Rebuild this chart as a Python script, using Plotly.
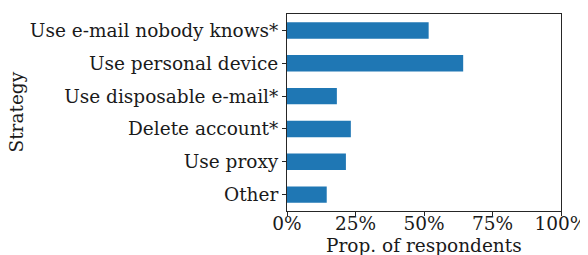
import plotly.graph_objects as go

strategies = ["Use e-mail nobody knows*", "Use personal device", "Use disposable e-mail*",
              "Delete account*", "Use proxy", "Other"]
proportions = [0.517, 0.643, 0.182, 0.233, 0.215, 0.145]
x_tickvals = [0, 0.25, 0.5, 0.75, 1.0]
x_ticktext = ["0%", "25%", "50%", "75%", "100%"]
x_title = "Prop. of respondents"
y_title = "Strategy"

font = "DejaVu Serif"
ink = "#1a1a1a"

fig = go.Figure(go.Bar(
    x=proportions, y=strategies, orientation="h",
    marker=dict(color="#1f77b4", line=dict(width=0)),
    width=0.5,
))

# page body has an 8px margin, so the figure is 8px smaller than the window
fig.update_layout(
    width=580, height=247,
    margin=dict(l=279, r=27, t=6, b=44, autoexpand=False),
    plot_bgcolor="white", paper_bgcolor="white",
    font=dict(family=font, size=18.5, color=ink),
    showlegend=False,
)
fig.update_xaxes(
    range=[0, 1], tickvals=x_tickvals, ticktext=x_ticktext,
    automargin=False, ticklabelstandoff=-8,
    showgrid=False, zeroline=False,
    showline=True, linecolor="#262626", linewidth=1, mirror=True,
    ticks="outside", ticklen=4, tickcolor="#262626",
)
fig.update_yaxes(
    categoryorder="array", categoryarray=strategies[::-1],
    range=[-0.5, 5.5], automargin=False,
    showgrid=False, zeroline=False,
    showline=True, linecolor="#262626", linewidth=1, mirror=True,
    ticks="outside", ticklen=4, tickcolor="#262626",
)
fig.add_annotation(text=x_title, xref="paper", yref="paper", x=0.5, y=0,
                   xanchor="center", yanchor="top", yshift=-22, showarrow=False,
                   font=dict(family=font, size=18.5, color=ink))
fig.add_annotation(text=y_title, xref="paper", yref="paper", x=0, y=0.5,
                   xanchor="center", yanchor="middle", xshift=-271, textangle=-90,
                   showarrow=False, font=dict(family=font, size=18.5, color=ink))
fig.write_html("out.html")
